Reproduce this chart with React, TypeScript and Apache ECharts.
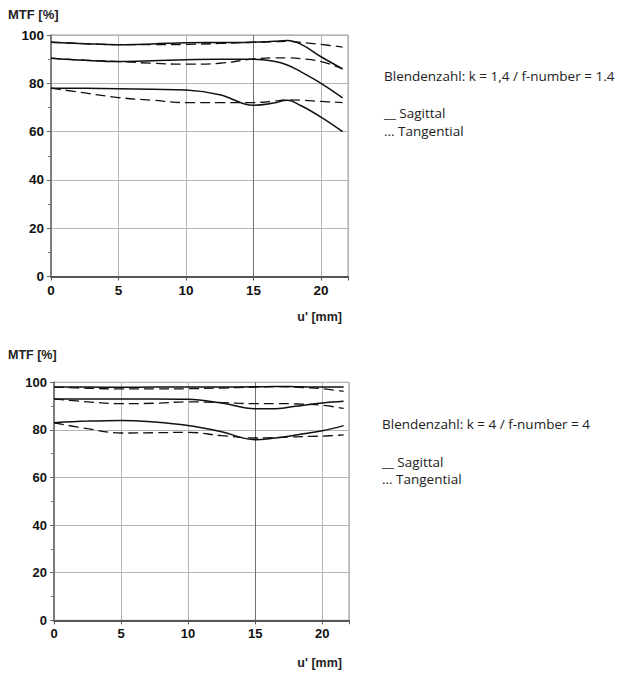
import React, { useEffect, useRef } from "react";
import * as echarts from "echarts";

// field positions u' [mm]
const uPos = [0, 2.5, 5, 7.5, 10, 12.5, 15, 16.5, 17.5, 18.5, 20, 21.6];

// k = 1.4
const k14Sag1 = [97, 96.4, 96, 96.3, 96.8, 96.9, 97, 97.4, 97.7, 96.2, 91, 86];
const k14Tan1 = [97, 96.4, 96, 96, 96.1, 96.5, 97, 97.2, 97.4, 96.9, 96.1, 95];
const k14Sag2 = [90.4, 89.5, 89, 89.3, 89.8, 90, 90, 89.1, 87.6, 84.8, 80, 74];
const k14Tan2 = [90.4, 89.6, 89, 88.3, 87.9, 88.3, 90.1, 90.5, 90.5, 90.2, 89, 86];
const k14Sag3 = [78, 77.9, 77.7, 77.5, 77.2, 75.3, 70.9, 71.8, 73.0, 70.8, 66, 60];
const k14Tan3 = [78, 76, 74.1, 73, 72, 72, 72, 72.6, 73.1, 73, 72.5, 72];

// k = 4
const k4Sag1 = [98, 98, 97.9, 98, 98, 98, 98.1, 98.2, 98.2, 98.1, 98, 98];
const k4Tan1 = [98, 97.5, 97.2, 97.2, 97.3, 97.6, 98, 98.2, 98.1, 97.8, 97.3, 96.2];
const k4Sag2 = [93, 93, 93, 93, 92.9, 91.3, 88.9, 88.9, 89.5, 90.3, 91.3, 92];
const k4Tan2 = [93, 91.8, 91, 91.2, 91.8, 91.5, 91, 91, 91, 90.8, 90.4, 89];
const k4Sag3 = [83, 83.7, 84, 83.3, 81.8, 79.2, 75.9, 76.6, 77.3, 78.3, 79.6, 81.8];
const k4Tan3 = [83, 80.5, 78.7, 78.8, 79, 77.6, 76.6, 76.8, 77, 77.2, 77.4, 77.9];

const xTicks = [0, 5, 10, 15, 20];
const yTicks = [0, 20, 40, 60, 80, 100];

const textTop = "Blendenzahl: k = 1,4 / f-number = 1.4";
const textBottom = "Blendenzahl: k = 4 / f-number = 4";
const sagLabel = "__ Sagittal";
const tanLabel = "… Tangential";
const yName = "MTF [%]";
const xName = "u' [mm]";

const pair = (ys: number[]) => uPos.map((u, i) => [u, ys[i]]);

export default function App() {
  const ref = useRef<HTMLDivElement>(null);
  useEffect(() => {
    document.body.style.margin = "0";
    if (!ref.current) return;
    const chart = echarts.init(ref.current, undefined, { renderer: "svg" });

    const labelFont = "'Liberation Sans', Arial, sans-serif";
    const mkX = (gi: number, fs: number) => ({
      type: "value",
      gridIndex: gi,
      min: 0,
      max: 22,
      interval: 5,
      axisLine: { show: true, onZero: false, lineStyle: { color: "#555", width: 2 } },
      axisTick: { show: true, length: 4, lineStyle: { color: "#555" } },
      axisLabel: {
        margin: 7,
        color: "#111",
        fontWeight: "bold",
        fontFamily: labelFont,
        fontSize: fs,
        formatter: (v: number) => (xTicks.includes(v) ? String(v) : ""),
      },
      splitLine: { show: true, lineStyle: { color: "#b5b5b5", width: 1 } },
    });
    const mkY = (gi: number, fs: number) => ({
      type: "value",
      gridIndex: gi,
      min: 0,
      max: 100,
      interval: 20,
      axisLine: { show: true, lineStyle: { color: "#666", width: 1.5 } },
      axisTick: { show: true, length: 4, lineStyle: { color: "#666" } },
      minorTick: { show: true, splitNumber: 2, length: 3, lineStyle: { color: "#777" } },
      axisLabel: {
        margin: 7,
        color: "#111",
        fontWeight: "bold",
        fontFamily: labelFont,
        fontSize: fs,
        formatter: (v: number) => (yTicks.includes(v) ? String(v) : ""),
      },
      splitLine: { show: true, lineStyle: { color: "#b5b5b5", width: 1 } },
    });

    const line = (gi: number, ys: number[], dashed: boolean, mark = false) => ({
      type: "line",
      xAxisIndex: gi,
      yAxisIndex: gi,
      data: pair(ys),
      smooth: 0.4,
      showSymbol: false,
      symbol: "none",
      lineStyle: {
        color: "#111",
        width: dashed ? 1.3 : 1.5,
        type: dashed ? [10, 5] : "solid",
      },
      z: 3,
      ...(mark
        ? {
            markLine: {
              silent: true,
              symbol: "none",
              label: { show: false },
              lineStyle: { color: "#707070", width: 1, type: "solid" },
              data: [{ xAxis: 15 }],
              z: 1,
            },
          }
        : {}),
    });

    const txt = (x: number, y: number, text: string, opts: any = {}) => ({
      type: "text",
      x,
      y,
      style: {
        text,
        fill: "#222",
        font: opts.font || "13.5px 'Open Sans', 'Noto Sans', sans-serif",
        textAlign: opts.align || "left",
        textVerticalAlign: "middle",
      },
    });

    const bold = (s: number) => `bold ${s}px 'Liberation Sans', Arial, sans-serif`;

    chart.setOption({
      animation: false,
      backgroundColor: "#fff",
      grid: [
        { left: 51, top: 35, width: 297, height: 241.5, show: true, borderColor: "#999", borderWidth: 1 },
        { left: 54, top: 382.3, width: 295, height: 238, show: true, borderColor: "#999", borderWidth: 1 },
      ],
      xAxis: [mkX(0, 13.5), mkX(1, 13)],
      yAxis: [mkY(0, 13.5), mkY(1, 13)],
      series: [
        line(0, k14Sag1, false, true),
        line(0, k14Tan1, true),
        line(0, k14Sag2, false),
        line(0, k14Tan2, true),
        line(0, k14Sag3, false),
        line(0, k14Tan3, true),
        line(1, k4Sag1, false, true),
        line(1, k4Tan1, true),
        line(1, k4Sag2, false),
        line(1, k4Tan2, true),
        line(1, k4Sag3, false),
        line(1, k4Tan3, true),
      ],
      graphic: [
        txt(8, 14, yName, { font: bold(13) }),
        txt(342, 317, xName, { font: bold(12.5), align: "right" }),
        txt(8, 355, yName, { font: bold(12.5) }),
        txt(342, 663, xName, { font: bold(12.5), align: "right" }),
        txt(384, 76, textTop),
        txt(384, 113, sagLabel),
        txt(384, 131, tanLabel),
        txt(382, 424, textBottom),
        txt(382, 462, sagLabel),
        txt(382, 479, tanLabel),
      ],
    });
    return () => chart.dispose();
  }, []);
  return <div ref={ref} style={{ width: 636, height: 674 }} />;
}
